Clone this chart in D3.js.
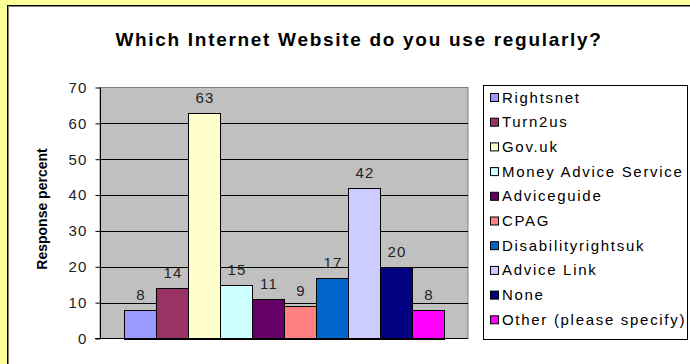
<!DOCTYPE html>
<html>
<head>
<meta charset="utf-8">
<script src="https://cdn.jsdelivr.net/npm/d3@7"></script>
<style>
  body { margin: 0; background: #ffff99; }
  svg { display: block; font-family: Arial, "Liberation Sans", sans-serif; }
</style>
</head>
<body>
<svg id="chart" width="690" height="364"></svg>
<script>
// chart values
const sites = ['Rightsnet', 'Turn2us', 'Gov.uk', 'Money Advice Service', 'Adviceguide',
               'CPAG', 'Disabilityrightsuk', 'Advice Link', 'None', 'Other (please specify)']
const percents = [8, 14, 63, 15, 11, 9, 17, 42, 20, 8]
const colors = ['#9999ff', '#993366', '#ffffcc', '#ccffff', '#660066',
                '#ff8080', '#0066cc', '#ccccff', '#000080', '#ff00ff']
const yTicks = [0, 10, 20, 30, 40, 50, 60, 70]

const svg = d3.select('#chart')

// yellow frame + white chart area
svg.append('rect').attr('width', 690).attr('height', 364).attr('fill', '#ffff99')
svg.append('rect')
    .attr('x', 7.5).attr('y', 5.5).attr('width', 720).attr('height', 400)
    .attr('fill', '#fff').attr('stroke', '#000')
svg.append('path').attr('d', 'M8.5,400V6.5H700').attr('fill', 'none').attr('stroke', '#808080')

svg.append('text')
    .text('Which Internet Website do you use regularly?')
    .attr('x', 359).attr('y', 46)
    .attr('text-anchor', 'middle')
    .style('font-weight', 'bold').style('font-size', '19px').style('letter-spacing', '1.7px')

const plot = {left: 100, right: 468, top: 87.5, bottom: 338.5}

const y = d3.scaleLinear().domain([0, 70]).range([plot.bottom, plot.top])
const x = d3.scaleBand().domain(sites).range([plot.left, plot.right])
    .paddingInner(0).paddingOuter(0.75)

// plot background
svg.append('rect')
    .attr('x', plot.left).attr('y', plot.top)
    .attr('width', plot.right - plot.left).attr('height', plot.bottom - plot.top)
    .attr('fill', '#c0c0c0').attr('stroke', '#808080')

// gridlines
svg.append('g').selectAll('line')
    .data(yTicks.slice(1, -1))
    .join('line')
    .attr('x1', plot.left).attr('x2', plot.right)
    .attr('y1', d => Math.round(y(d)) + 0.5).attr('y2', d => Math.round(y(d)) + 0.5)
    .attr('stroke', '#000')

// bars
svg.append('g').selectAll('rect')
    .data(percents)
    .join('rect')
    .attr('x', (d, i) => Math.round(x(sites[i])) + 0.5)
    .attr('y', d => Math.round(y(d)) + 0.5)
    .attr('width', Math.round(x.bandwidth()))
    .attr('height', d => Math.round(y(0)) - Math.round(y(d)))
    .attr('fill', (d, i) => colors[i])
    .attr('stroke', '#000')

// value labels
svg.append('g').selectAll('text')
    .data(percents)
    .join('text')
    .text(d => d)
    .attr('x', (d, i) => x(sites[i]) + x.bandwidth() / 2 + 1)
    .attr('y', d => y(d) - 10)
    .attr('text-anchor', 'middle')
    .style('font-size', '15px').style('letter-spacing', '1.2px').attr('fill', '#222')

// y axis
const yAxis = svg.append('g')
    .attr('transform', 'translate(' + (plot.left + 0.5) + ',0)')
    .call(d3.axisLeft(y).tickValues(yTicks).tickSize(5).tickPadding(8))
yAxis.select('.domain').attr('d', 'M0,' + plot.top + 'V' + (plot.bottom + 0.5))
yAxis.selectAll('.tick line').attr('stroke', '#000')
yAxis.selectAll('text')
    .style('font-size', '15px').style('letter-spacing', '1.2px')
    .style('font-family', 'Arial, "Liberation Sans", sans-serif').attr('fill', '#222')

// x axis baseline
svg.append('line')
    .attr('x1', plot.left - 5).attr('x2', plot.right)
    .attr('y1', plot.bottom).attr('y2', plot.bottom)
    .attr('stroke', '#000')

svg.append('text')
    .text('Response percent')
    .attr('transform', 'translate(47,209) rotate(-90)')
    .attr('text-anchor', 'middle')
    .style('font-weight', 'bold').style('font-size', '14px')

// legend
const legend = svg.append('g')
legend.append('rect')
    .attr('x', 483.5).attr('y', 85.5).attr('width', 204).attr('height', 254)
    .attr('fill', '#fff').attr('stroke', '#000')

const rows = legend.selectAll('g.row')
    .data(sites)
    .join('g').classed('row', true)
    .attr('transform', (d, i) => 'translate(490,' + (97 + i * 24.7) + ')')
rows.append('rect')
    .attr('x', 0.5).attr('y', -3.5).attr('width', 8).attr('height', 8)
    .attr('fill', (d, i) => colors[i]).attr('stroke', '#000')
rows.append('text')
    .text(d => d)
    .attr('x', 12).attr('y', 5.5)
    .style('font-size', '15px').style('letter-spacing', '1.7px')
</script>
</body>
</html>
